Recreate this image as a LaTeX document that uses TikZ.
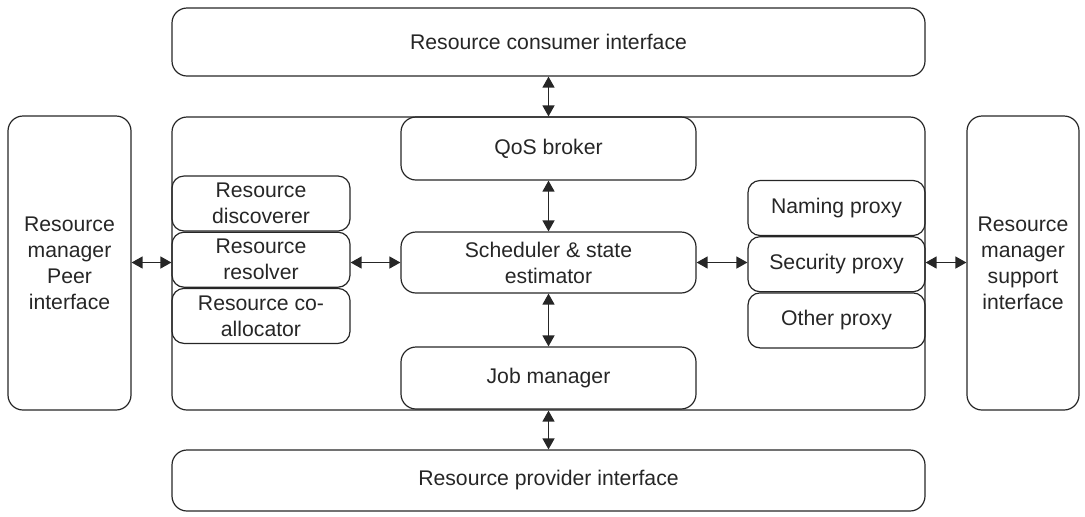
\documentclass[tikz,border=0pt]{standalone}
\usepackage{fontspec}
\setmainfont{Liberation Sans}
\usetikzlibrary{arrows.meta,positioning}
\definecolor{linegray}{rgb}{0.15,0.15,0.15}

\begin{document}
\begin{tikzpicture}[x=0.5pt,y=-0.5pt,font=\fontsize{10.6pt}{13pt}\selectfont,
   text=linegray,draw=linegray,
   frame/.style={draw,line width=0.6pt,rounded corners=7.5pt,align=center,
                 inner sep=0pt},
   part/.style={draw,line width=0.6pt,rounded corners=6pt,align=center,
                inner sep=0pt,minimum width=89pt,minimum height=27.5pt},
   link/.style={{Triangle[length=5.5pt,width=6pt]}-{Triangle[length=5.5pt,width=6pt]},
                line width=0.7pt}]
  \useasboundingbox (0,0) rectangle (1085,516);
  % outer frames
  \node[frame,minimum width=376.5pt,minimum height=34pt] (cons) at (548.5,42) {Resource consumer interface};
  \node[frame,minimum width=376.5pt,minimum height=30.5pt] (prov) at (548.5,480.5) {Resource provider interface};
  \node[frame,minimum width=376.5pt,minimum height=146.5pt] (main) at (548.5,263.5) {};
  \node[frame,minimum width=61.5pt,minimum height=147pt] (peer) at (69.5,263) {Resource\\manager\\Peer\\interface};
  \node[frame,minimum width=56pt,minimum height=147pt] (supp) at (1023,263) {Resource\\manager\\support\\interface};
  % middle column
  \node[frame,minimum width=147.5pt,minimum height=31.5pt] (qos) at (548.5,148.5) {QoS broker};
  \node[frame,minimum width=147.5pt,minimum height=30.5pt] (sched) at (548.5,262.5) {Scheduler \& state\\estimator};
  \node[frame,minimum width=147.5pt,minimum height=31pt] (job) at (548.5,378) {Job manager};
  % left stack
  \node[part] (disc) at (261,203.5) {Resource\\discoverer};
  \node[part,below=0pt of disc] (res) {Resource\\resolver};
  \node[part,below=0pt of res] (coal) {Resource co-\\allocator};
  % right stack
  \node[part,minimum width=88.5pt] (nam) at (836.5,208) {Naming proxy};
  \node[part,minimum width=88.5pt,below=0pt of nam] (sec) {Security proxy};
  \node[part,minimum width=88.5pt,below=0pt of sec] (oth) {Other proxy};
  % connectors
  \draw[link] (cons.south) -- (main.north);
  \draw[link] (qos.south) -- (sched.north);
  \draw[link] (sched.south) -- (job.north);
  \draw[link] (main.south) -- (prov.north);
  \draw[link] (peer.east |- sched) -- (main.west |- sched);
  \draw[link] (res.east |- sched) -- (sched.west);
  \draw[link] (sched.east) -- (sec.west |- sched);
  \draw[link] (main.east |- sched) -- (supp.west |- sched);
\end{tikzpicture}
\end{document}
